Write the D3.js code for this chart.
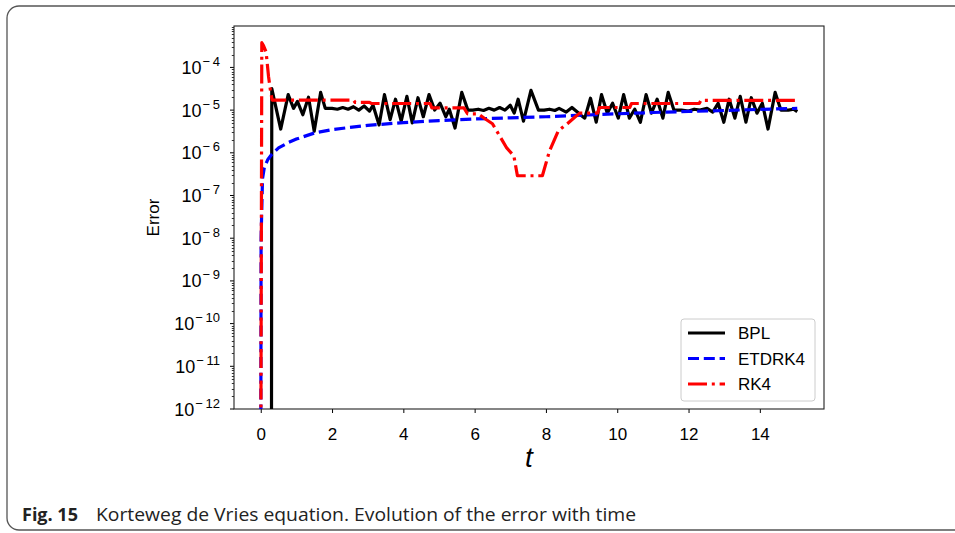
<!DOCTYPE html>
<html>
<head>
<meta charset="utf-8">
<script src="https://cdn.jsdelivr.net/npm/d3@7"></script>
<style>
  body { margin: 0; background: #fff; }
  svg { display: block; }
</style>
</head>
<body>
<div id="chart"></div>
<script>
// data
var bplT = [0.30, 0.31, 0.56, 0.77, 0.92, 1.03, 1.18, 1.34, 1.50, 1.68, 1.81, 2.00, 2.15, 2.30, 2.45, 2.60, 2.75, 2.90, 3.05, 3.15,
  3.32, 3.47, 3.63, 3.78, 3.94, 4.10, 4.25, 4.41, 4.56, 4.72, 4.88, 5.03, 5.19, 5.29, 5.45, 5.64, 5.81, 5.95, 6.10, 6.25,
  6.40, 6.55, 6.70, 6.85, 7.00, 7.11, 7.22, 7.37, 7.58, 7.79, 7.95, 8.10, 8.25, 8.37, 8.57, 8.73, 8.88, 8.99, 9.09, 9.25,
  9.41, 9.56, 9.72, 9.87, 10.03, 10.18, 10.34, 10.49, 10.65, 10.81, 10.96, 11.12, 11.28, 11.43, 11.59, 11.80, 12.00, 12.16, 12.32, 12.52,
  12.68, 12.83, 12.99, 13.14, 13.30, 13.45, 13.61, 13.76, 13.92, 14.07, 14.23, 14.43, 14.59, 14.80, 14.95, 15.05];
var bplErr = [1e-14, 3.2e-5, 3.6e-6, 2.3e-5, 1.1e-5, 1.6e-5, 7.8e-6, 2.0e-5, 3.2e-6, 2.6e-5, 1.1e-5, 1.1e-5, 1.05e-5, 1.15e-5, 1.05e-5, 1.2e-5, 1.0e-5, 1.25e-5, 9.5e-6, 1.3e-5,
  4.5e-6, 2.3e-5, 6e-6, 1.8e-5, 5.5e-6, 2.1e-5, 5e-6, 1.95e-5, 7e-6, 2.3e-5, 1.0e-5, 1.45e-5, 7e-6, 1.05e-5, 3.8e-6, 2.6e-5, 1.0e-5, 1.0e-5, 1.05e-5, 9.8e-6,
  1.1e-5, 1.0e-5, 1.15e-5, 1.0e-5, 1.3e-5, 8.5e-6, 1.8e-5, 5.5e-6, 2.9e-5, 1.0e-5, 1.0e-5, 1.05e-5, 9.8e-6, 1.1e-5, 9.0e-6, 1.15e-5, 9.0e-6, 7.5e-6, 6.5e-6, 1.9e-5,
  5.2e-6, 2.3e-5, 8.5e-6, 1.45e-5, 6.5e-6, 2.3e-5, 6.5e-6, 1.05e-5, 5.2e-6, 2.3e-5, 8.5e-6, 1.8e-5, 6.5e-6, 2.6e-5, 1.0e-5, 1.0e-5, 9.5e-6, 1.05e-5, 1.0e-5, 1.1e-5,
  9e-6, 1.45e-5, 5.2e-6, 1.8e-5, 6.5e-6, 2.1e-5, 5.2e-6, 1.95e-5, 8.5e-6, 1.45e-5, 3.6e-6, 2.6e-5, 1.0e-5, 1.0e-5, 1.05e-5, 9.2e-6];

var etdT = [0, 0.01, 0.05, 0.1, 0.2, 0.3, 0.5, 0.75, 1, 1.5, 2, 3, 4, 5, 6, 7, 8, 9, 10, 11, 12, 13, 14, 15.05];
var etdErr = [1e-14, 1e-8, 2.5e-7, 4.5e-7, 7e-7, 9e-7, 1.3e-6, 1.7e-6, 2.1e-6, 2.9e-6, 3.5e-6, 4.4e-6, 5.1e-6, 5.7e-6, 6.2e-6, 6.6e-6, 7.0e-6, 7.6e-6, 8.2e-6, 8.8e-6, 9.3e-6, 9.8e-6, 1.04e-5, 1.1e-5];

var rkT = [0, 0.03, 0.08, 0.15, 0.22, 0.27, 0.32, 2.6, 2.65, 3.05, 3.1, 4.75, 4.8, 5.7, 5.8, 6.1, 6.3, 6.5, 6.7, 6.9, 7.1, 7.2,
  7.9, 8.1, 8.35, 8.6, 8.8, 8.95, 9.45, 9.5, 10.35, 10.4, 12.3, 12.35, 15.05];
var rkErr = [1e-14, 3.8e-4, 3.2e-4, 2.3e-4, 6e-5, 3e-5, 1.72e-5, 1.72e-5, 1.51e-5, 1.51e-5, 1.43e-5, 1.43e-5, 1.13e-5, 1.13e-5, 8.2e-6, 8.2e-6, 6.2e-6, 4.8e-6, 2.5e-6, 1.3e-6, 8.5e-7, 2.9e-7,
  2.9e-7, 1.1e-6, 3.3e-6, 4.8e-6, 6.7e-6, 8.5e-6, 8.5e-6, 1.15e-5, 1.15e-5, 1.43e-5, 1.43e-5, 1.7e-5, 1.7e-5];

var xTicks = [0, 2, 4, 6, 8, 10, 12, 14];
var yExps = [-12, -11, -10, -9, -8, -7, -6, -5, -4];
var seriesNames = ["BPL", "ETDRK4", "RK4"];

var W = 955, H = 533;
var svg = d3.select("#chart").append("svg")
    .attr("width", W)
    .attr("height", H);

// outer figure frame
svg.append("rect")
    .attr("x", 7).attr("y", 6)
    .attr("width", 970).attr("height", 524)
    .attr("rx", 12)
    .attr("fill", "none")
    .attr("stroke", "#555")
    .attr("stroke-width", 1.3);

var plotL = 234, plotR = 824, plotT = 26, plotB = 409;
var x = d3.scaleLinear().domain([-0.75, 15.8]).range([plotL, plotR]);
var y = d3.scaleLog().domain([1e-12, Math.pow(10, -3.03)]).range([plotB, plotT]);

svg.append("clipPath").attr("id", "plotclip")
  .append("rect")
    .attr("x", plotL).attr("y", plotT)
    .attr("width", plotR - plotL).attr("height", plotB - plotT);

var font = "'Liberation Sans', Arial, sans-serif";

// x axis
var xAxis = svg.append("g")
    .attr("transform", "translate(0," + plotB + ")")
    .call(d3.axisBottom(x).tickValues(xTicks).tickSize(4).tickPadding(15).tickFormat(d3.format("d")));
xAxis.select(".domain").remove();
xAxis.selectAll("line").attr("stroke", "#000").attr("stroke-width", 1);
xAxis.selectAll("text").attr("font-family", font).attr("font-size", 17).attr("fill", "#000");

// y axis minor ticks
var minor = [];
yExps.forEach(function(e) {
  for (var k = 2; k <= 9; k++) {
    var v = k * Math.pow(10, e);
    if (v <= y.domain()[1]) minor.push(v);
  }
});
svg.append("g").selectAll("line").data(minor).enter().append("line")
    .attr("x1", plotL - 2.2).attr("x2", plotL)
    .attr("y1", function(d) { return Math.round(y(d)) + 0.5; })
    .attr("y2", function(d) { return Math.round(y(d)) + 0.5; })
    .attr("stroke", "#000").attr("stroke-width", 0.8);

// y axis major ticks and labels
var yMajor = svg.append("g");
yMajor.selectAll("line").data(yExps).enter().append("line")
    .attr("x1", plotL - 4).attr("x2", plotL)
    .attr("y1", function(d) { return y(Math.pow(10, d)); })
    .attr("y2", function(d) { return y(Math.pow(10, d)); })
    .attr("stroke", "#000").attr("stroke-width", 1);
var yLab = yMajor.selectAll("text").data(yExps).enter().append("text")
    .attr("x", 220)
    .attr("y", function(d) { return y(Math.pow(10, d)) + 6.5; })
    .attr("text-anchor", "end")
    .attr("font-family", font)
    .attr("font-size", 18)
    .attr("fill", "#000");
yLab.append("tspan").text("10");
yLab.append("tspan")
    .attr("dy", -8)
    .attr("dx", 1)
    .attr("font-size", 13)
    .text(function(d) { return "\u2212\u2009" + Math.abs(d); });

// plot frame
svg.append("rect")
    .attr("x", plotL).attr("y", plotT)
    .attr("width", plotR - plotL).attr("height", plotB - plotT)
    .attr("fill", "none")
    .attr("stroke", "#222")
    .attr("stroke-width", 1.1);

// axis labels
svg.append("text")
    .attr("transform", "translate(159," + ((plotT + plotB) / 2) + ") rotate(-90)")
    .attr("text-anchor", "middle")
    .attr("font-family", font)
    .attr("font-size", 17)
    .text("Error");

svg.append("text")
    .attr("x", (plotL + plotR) / 2)
    .attr("y", 467)
    .attr("text-anchor", "middle")
    .attr("font-family", font)
    .attr("font-style", "italic")
    .attr("font-size", 28)
    .text("t");

// lines
var line = d3.line()
    .x(function(d) { return x(d[0]); })
    .y(function(d) { return y(d[1]); });

var styles = [
  { color: "#000000", dash: null },
  { color: "#0000ff", dash: "11,4.8" },
  { color: "#ff0000", dash: "19,4.8,3,4.8" }
];
var series = [d3.zip(bplT, bplErr), d3.zip(etdT, etdErr), d3.zip(rkT, rkErr)];

var plot = svg.append("g").attr("clip-path", "url(#plotclip)");
series.forEach(function(s, i) {
  plot.append("path")
      .datum(s)
      .attr("d", line)
      .attr("fill", "none")
      .attr("stroke", styles[i].color)
      .attr("stroke-width", 3.2)
      .attr("stroke-linejoin", "round")
      .attr("stroke-dasharray", styles[i].dash);
});

// legend
var legend = svg.append("g");
legend.append("rect")
    .attr("x", 681).attr("y", 319)
    .attr("width", 134).attr("height", 82)
    .attr("rx", 3)
    .attr("fill", "#fff")
    .attr("fill-opacity", 0.8)
    .attr("stroke", "#ccc")
    .attr("stroke-width", 1);
seriesNames.forEach(function(name, i) {
  var ly = 333 + i * 25.5;
  legend.append("line")
      .attr("x1", 688).attr("x2", 725)
      .attr("y1", ly).attr("y2", ly)
      .attr("stroke", styles[i].color)
      .attr("stroke-width", 3)
      .attr("stroke-dasharray", styles[i].dash);
  legend.append("text")
      .attr("x", 738).attr("y", ly + 6)
      .attr("font-family", font)
      .attr("font-size", 17)
      .text(name);
});

// caption
var cap = svg.append("text")
    .attr("x", 22).attr("y", 521)
    .attr("font-family", "'Open Sans', 'Noto Sans', sans-serif")
    .attr("font-size", 18)
    .attr("fill", "#222");
cap.append("tspan").attr("font-weight", "bold").text("Fig. 15");
svg.append("text")
    .attr("x", 96).attr("y", 521)
    .attr("font-family", "'Open Sans', 'Noto Sans', sans-serif")
    .attr("font-size", 18)
    .attr("fill", "#222")
    .attr("textLength", 540)
    .attr("lengthAdjust", "spacingAndGlyphs")
    .text("Korteweg de Vries equation. Evolution of the error with time");
</script>
</body>
</html>
